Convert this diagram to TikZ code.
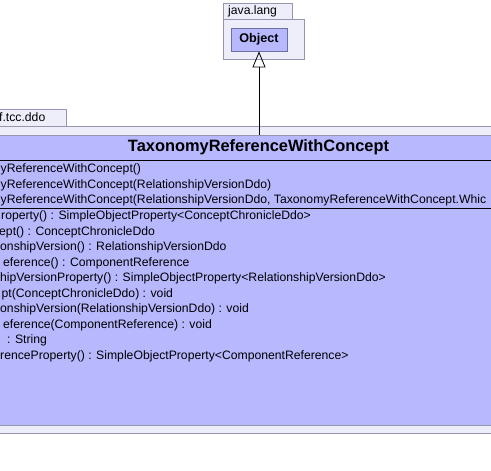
\documentclass[tikz,border=0pt]{standalone}
\usepackage{fontspec}
\setmainfont{Liberation Sans}
\usetikzlibrary{arrows.meta,positioning}
\definecolor{classfill}{RGB}{184,184,255}
\definecolor{pkgfill}{RGB}{238,238,250}
\definecolor{pkgline}{RGB}{150,150,176}
\definecolor{objline}{RGB}{110,110,160}
\tikzstyle{pkgbox} = [draw=pkgline, fill=pkgfill, rectangle, line width=0.8pt, inner sep=0pt, anchor=north west]
\tikzstyle{classbox} = [draw=pkgline, fill=classfill, rectangle, line width=0.8pt, inner sep=0pt, anchor=north west]
\tikzstyle{objbox} = [draw=objline, fill=classfill, rectangle, line width=0.8pt, inner sep=0pt, minimum width=56pt, minimum height=23pt, font=\fontsize{12.6}{14}\selectfont\bfseries]
\tikzstyle{pkgname} = [anchor=west, inner sep=0pt, font=\fontsize{12.2}{14}\selectfont]
\tikzstyle{member} = [anchor=west, inner sep=0pt, font=\fontsize{12.2}{14}\selectfont]
\tikzstyle{title} = [inner sep=0pt, font=\fontsize{16.4}{18}\selectfont\bfseries]
\tikzstyle{sep} = [draw, line width=0.8pt]
\tikzstyle{inherit} = [draw, line width=0.8pt, -{Triangle[open, length=16pt, width=13pt]}]
\begin{document}
\begin{tikzpicture}[x=1pt, y=-1pt]
        \useasboundingbox[fill=white] (0,0) rectangle (491,471);
        \clip (0,0) rectangle (491,471);
        % package java.lang
        \node[pkgbox, minimum width=69pt, minimum height=16pt] (langtab) at (223,3) {};
        \node[pkgbox, minimum width=81pt, minimum height=40pt] (langpkg) at (223,19) {};
        \node[pkgname] (langname) at (228,11.5) {java.lang};
        \node[objbox] (obj) at (259,39.5) {Object};
        % package of the class
        \node[pkgbox, minimum width=68pt, minimum height=17pt] (ddotab) at (-2,109) {};
        \node[pkgbox, minimum width=496pt, minimum height=307pt] (ddopkg) at (-2,126) {};
        \node[pkgname] (ddoname) at (-1,117.5) {f.tcc.ddo};
        \node[classbox, minimum width=496pt, minimum height=290pt] (cls) at (-2,135) {};
        \node[title] (clsname) at (258.5,147.5) {TaxonomyReferenceWithConcept};
        \path[sep] ([yshift=-25.5pt]cls.north west) -- ([yshift=-25.5pt]cls.north east);
        \path[sep] ([yshift=-73pt]cls.north west) -- ([yshift=-73pt]cls.north east);
        % constructors
        \node[member] (ctor1) at (0.5,169.5) {yReferenceWithConcept()};
        \node[member] (ctor2) at (0.5,185) {yReferenceWithConcept(RelationshipVersionDdo)};
        \node[member] (ctor3) at (0.5,200.5) {yReferenceWithConcept(RelationshipVersionDdo, TaxonomyReferenceWithConcept.Whic};
        % methods
        \node[member] (m1) at (1,216.5) {roperty() : SimpleObjectProperty<ConceptChronicleDdo>};
        \node[member] (m2) at (-1,232) {ept() : ConceptChronicleDdo};
        \node[member] (m3) at (0,247.5) {onshipVersion() : RelationshipVersionDdo};
        \node[member] (m4) at (3,263) {eference() : ComponentReference};
        \node[member] (m5) at (0,278.5) {hipVersionProperty() : SimpleObjectProperty<RelationshipVersionDdo>};
        \node[member] (m6) at (1.5,294) {pt(ConceptChronicleDdo) : void};
        \node[member] (m7) at (0,309.5) {onshipVersion(RelationshipVersionDdo) : void};
        \node[member] (m8) at (3,325) {eference(ComponentReference) : void};
        \node[member] (m9) at (7,340.5) {: String};
        \node[member] (m10) at (0,356) {renceProperty() : SimpleObjectProperty<ComponentReference>};
        % generalization
        \path[inherit] (obj.south |- cls.north) -- (obj.south);
    \end{tikzpicture}
\end{document}
